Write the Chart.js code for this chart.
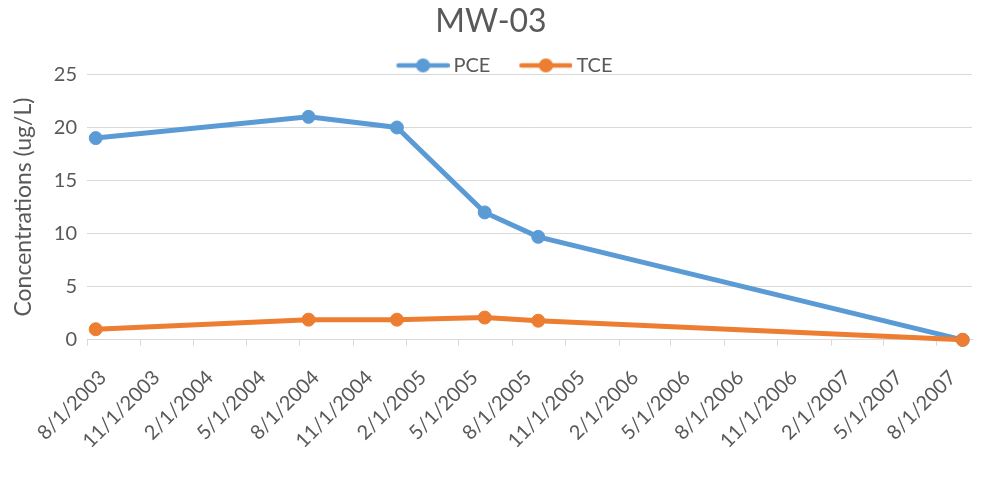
<!DOCTYPE html>
<html><head><meta charset="utf-8">
<script src="https://cdn.jsdelivr.net/npm/chart.js@4.4.1/dist/chart.umd.min.js"></script>
<style>html,body{margin:0;padding:0;background:#fff}canvas{display:block}</style>
</head><body>
<canvas id="c" width="983" height="491"></canvas>
<script>
// ---- data ----
const sampleDates = ['2003-08-16', '2004-08-16', '2005-01-15', '2005-06-15', '2005-09-15', '2007-09-15'];
const pceValues = [19, 21, 20, 12, 9.7, 0];
const tceValues = [1.0, 1.9, 1.9, 2.1, 1.8, 0];
const seriesNames = ['PCE', 'TCE'];
const xTickDates = ['2003-08-01', '2003-11-01', '2004-02-01', '2004-05-01', '2004-08-01', '2004-11-01',
  '2005-02-01', '2005-05-01', '2005-08-01', '2005-11-01', '2006-02-01', '2006-05-01', '2006-08-01',
  '2006-11-01', '2007-02-01', '2007-05-01', '2007-08-01'];
const xRange = ['2003-08-01', '2007-10-01'];
const yTicks = [0, 5, 10, 15, 20, 25];
const chartTitle = 'MW-03';
const yTitle = 'Concentrations (ug/L)';

// ---- helpers ----
function dayNum(s) { const [y, m, d] = s.split('-').map(Number); return Date.UTC(y, m - 1, d) / 86400000; }
function fmtDay(n) { const dt = new Date(Math.round(n) * 86400000); return (dt.getUTCMonth() + 1) + '/' + dt.getUTCDate() + '/' + dt.getUTCFullYear(); }
const colors = ['#5B9BD5', '#ED7D31'];
const textColor = '#595959';
const gridColor = '#D9D9D9';
const FONT = "Lato, 'Open Sans', 'Liberation Sans', sans-serif";

// legend symbol: line with a marker, with a transparent lead-in for item spacing
const LEAD = 33;
function legendImage(color) {
  const c = document.createElement('canvas');
  c.width = 53 + LEAD; c.height = 16;
  const g = c.getContext('2d');
  g.strokeStyle = color; g.lineWidth = 4.5; g.lineCap = 'round';
  g.beginPath(); g.moveTo(LEAD + 2, 8); g.lineTo(LEAD + 51, 8); g.stroke();
  g.fillStyle = color; g.beginPath(); g.arc(LEAD + 26.5, 8, 7, 0, Math.PI * 2); g.fill();
  return c;
}
const legendImgs = colors.map(legendImage);

const toPoints = vals => vals.map((v, i) => ({ x: dayNum(sampleDates[i]), y: v }));

new Chart(document.getElementById('c'), {
  type: 'line',
  data: {
    datasets: [pceValues, tceValues].map((vals, i) => ({
      label: seriesNames[i],
      data: toPoints(vals),
      order: 1 - i,
      borderColor: colors[i],
      backgroundColor: colors[i],
      borderWidth: 5,
      pointRadius: 6.5,
      pointBorderWidth: 1,
      pointBorderColor: colors[i],
      pointBackgroundColor: colors[i],
      tension: 0,
      clip: false
    }))
  },
  options: {
    responsive: false,
    animation: false,
    devicePixelRatio: 1,
    layout: { padding: { left: 10, right: 11, top: 2, bottom: 18 } },
    plugins: {
      tooltip: { enabled: false },
      title: {
        display: true, text: chartTitle, color: textColor,
        font: { family: FONT, size: 32, weight: 'normal' },
        padding: { top: 0, bottom: 13 }
      },
      legend: {
        display: true, position: 'top',
        maxHeight: 21,
        labels: {
          color: textColor,
          font: { family: FONT, size: 20 },
          usePointStyle: true,
          pointStyleWidth: 41 + LEAD,
          padding: 2,
          sort: (a, b) => a.datasetIndex - b.datasetIndex,
          generateLabels(chart) {
            const items = Chart.defaults.plugins.legend.labels.generateLabels(chart);
            items.forEach(it => { it.pointStyle = legendImgs[it.datasetIndex]; });
            return items;
          }
        }
      }
    },
    scales: {
      x: {
        type: 'linear',
        min: dayNum(xRange[0]),
        max: dayNum(xRange[1]),
        afterBuildTicks(scale) { scale.ticks = xTickDates.map(d => ({ value: dayNum(d) })); },
        afterFit(scale) { scale.paddingLeft = 0; },
        ticks: {
          autoSkip: false, minRotation: 45, maxRotation: 45,
          color: textColor, font: { family: FONT, size: 20 },
          padding: 20, labelOffset: 16,
          callback: v => fmtDay(v)
        },
        grid: { display: true, drawOnChartArea: false, drawTicks: true, tickLength: 6, color: gridColor, lineWidth: 1 },
        border: { display: true, color: gridColor, width: 1 }
      },
      y: {
        min: 0, max: 25,
        afterBuildTicks(scale) { scale.ticks = yTicks.map(v => ({ value: v })); },
        afterFit(scale) { scale.width = 77; },
        ticks: { color: textColor, font: { family: FONT, size: 20 }, padding: 10 },
        grid: { color: gridColor, lineWidth: 1, drawTicks: false },
        border: { display: false },
        title: { display: true, text: yTitle, color: textColor, font: { family: FONT, size: 23 }, padding: { top: 0, bottom: 16 } }
      }
    }
  }
});
</script>
</body></html>
